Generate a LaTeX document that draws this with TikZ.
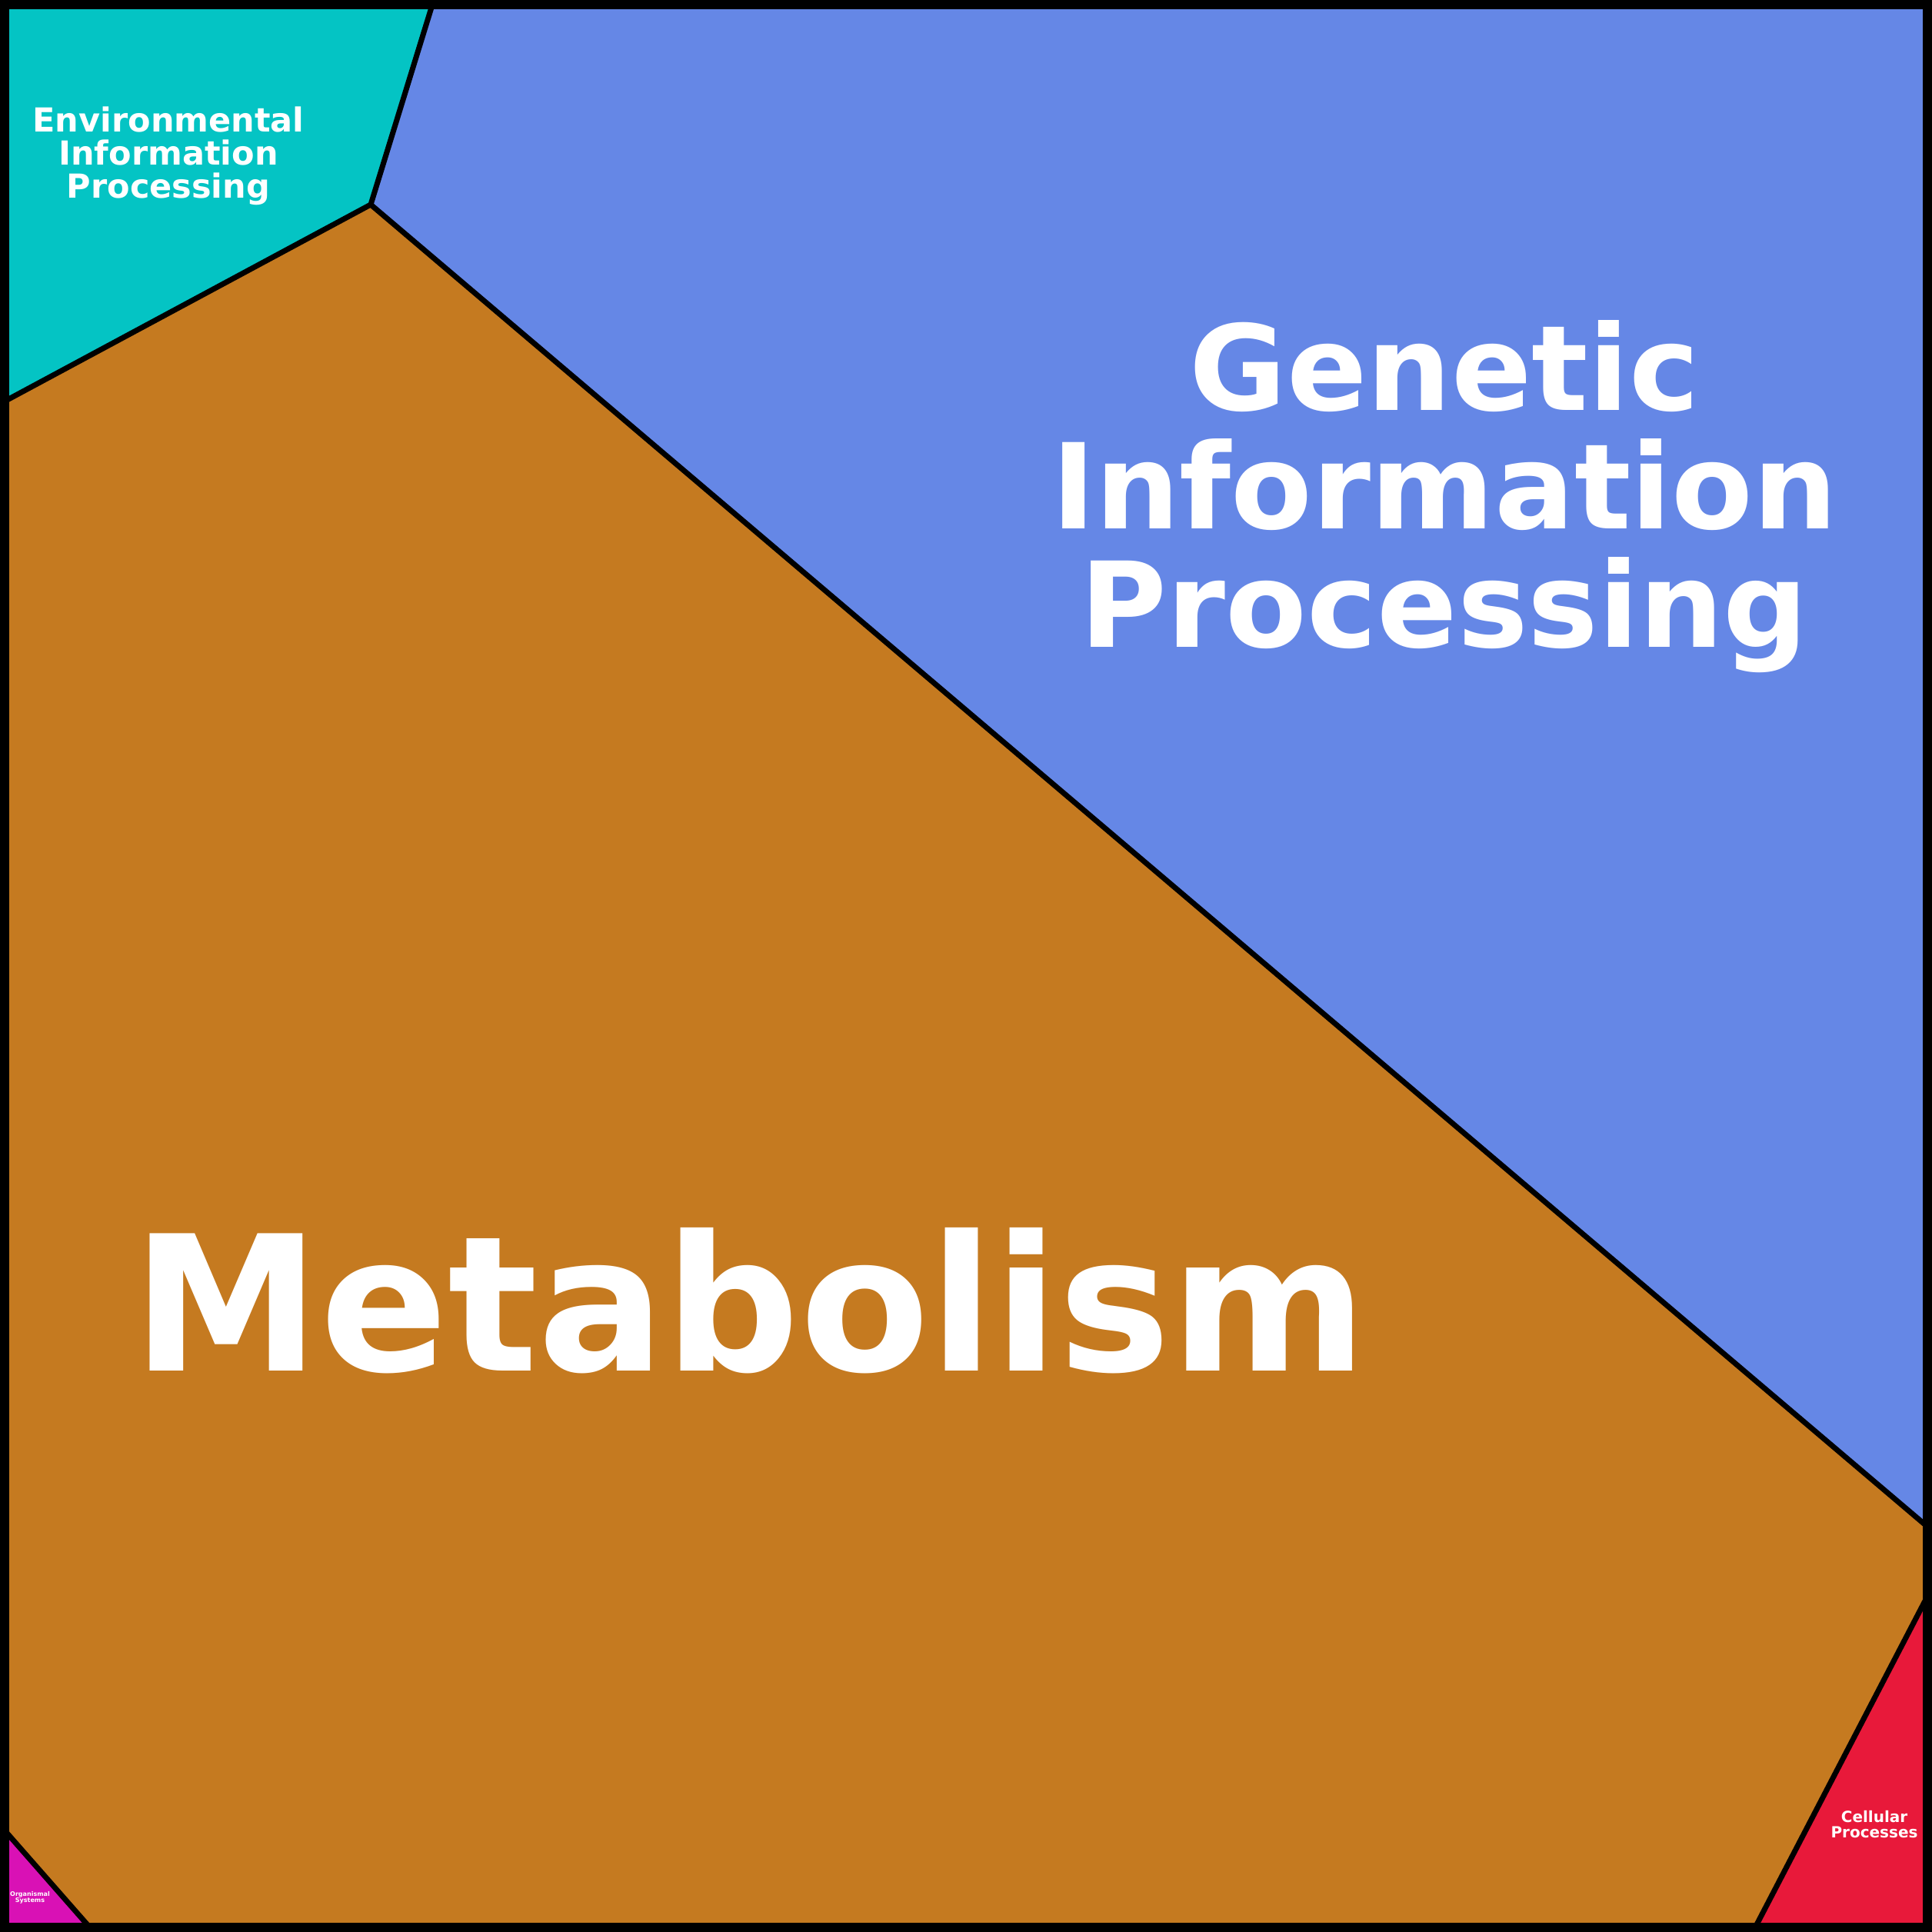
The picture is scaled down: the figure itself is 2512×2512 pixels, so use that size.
\documentclass[tikz,border=0pt]{standalone}
\usepackage{fontspec}
\setmainfont{DejaVu Sans}
\definecolor{envcol}{RGB}{4,196,196}
\definecolor{gencol}{RGB}{101,135,230}
\definecolor{metcol}{RGB}{197,122,32}
\definecolor{celcol}{RGB}{232,25,58}
\definecolor{orgcol}{RGB}{217,17,181}

\begin{document}
\begin{tikzpicture}[x=1pt,y=-1pt,
		edge/.style={line width=7pt,line join=round},
		lab/.style={text=white,inner sep=0pt,align=center,anchor=base,
			font=\bfseries\fontsize{#1}{#1}\selectfont}]
		\useasboundingbox (0,0) rectangle (2512,2512);
		\coordinate (jn) at (482,266);
		\coordinate (envtop) at (564,0);
		\coordinate (envleft) at (0,525);
		\coordinate (genright) at (2512,1990);
		\coordinate (celtop) at (2512,2064);
		\coordinate (celbot) at (2279,2512);
		\coordinate (orgtop) at (0,2373);
		\coordinate (orgbot) at (122,2512);
		% regions
		\fill[metcol] (0,0) rectangle (2512,2512);
		\fill[envcol] (0,0) -- (envtop) -- (jn) -- (envleft) -- cycle;
		\fill[gencol] (envtop) -- (2512,0) -- (genright) -- (jn) -- cycle;
		\fill[celcol] (celtop) -- (2512,2512) -- (celbot) -- cycle;
		\fill[orgcol] (orgtop) -- (orgbot) -- (0,2512) -- cycle;
		% borders
		\draw[edge] (envtop) -- (jn) -- (envleft) (jn) -- (genright);
		\draw[edge] (celtop) -- (celbot) (orgtop) -- (orgbot);
		\draw[line width=12pt] (6,6) rectangle (2506,2506);
		% labels
		\node[lab=43] (env) at (219,257) {Environmental\\Information\\Processing};
		\node[lab=154] (gen) at (1878,841) {Genetic\\Information\\Processing};
		\node[lab=245] (met) at (975,1782) {Metabolism};
		\node[lab=20] (cel) at (2437,2389) {Cellular\\Processes};
		\node[lab=8] (org) at (39,2473) {Organismal\\Systems};
\end{tikzpicture}
\end{document}
